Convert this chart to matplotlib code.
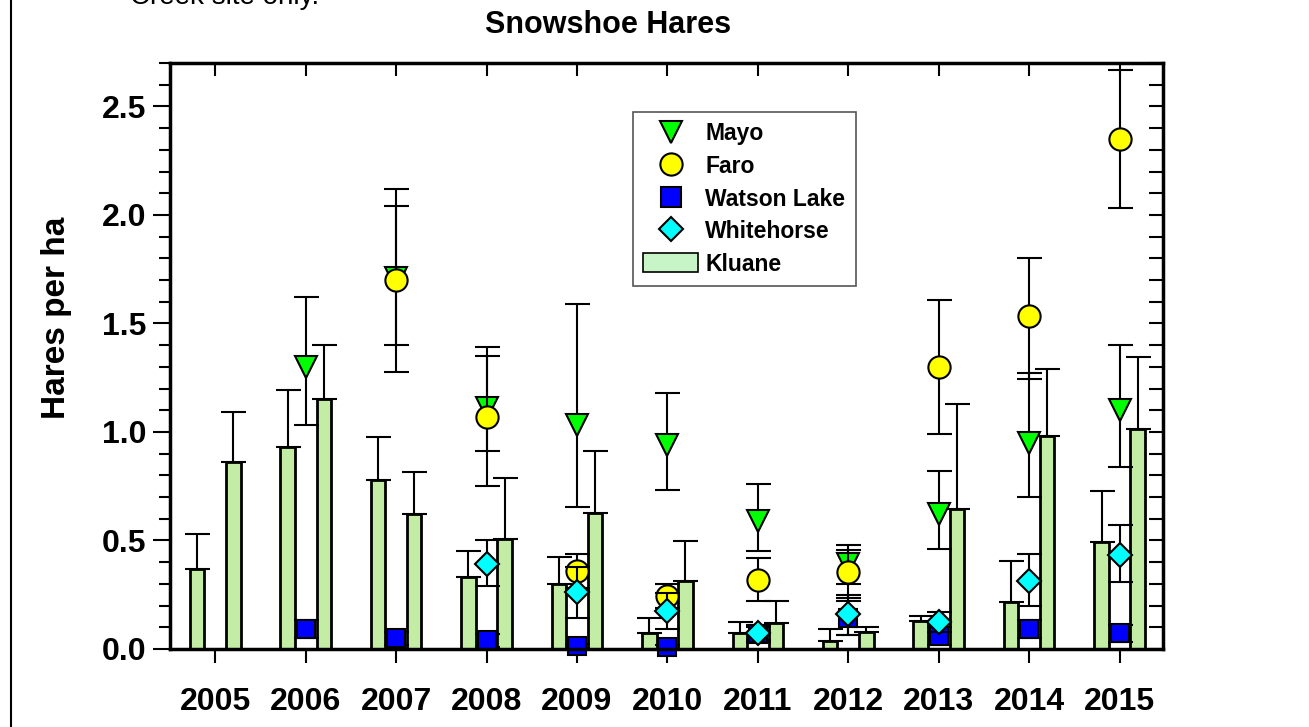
import numpy as np
import matplotlib
matplotlib.use("Agg")
import matplotlib.pyplot as plt
from matplotlib.lines import Line2D
from matplotlib.patches import Patch
from matplotlib.ticker import MultipleLocator, FormatStrFormatter

plt.rcParams['font.family'] = ['Liberation Sans', 'DejaVu Sans']
plt.rcParams['font.weight'] = 'bold'

# Kluane (bars, spring / autumn) with upper error
years = np.arange(2005, 2016)
kluane_spring = [0.37, 0.93, 0.78, 0.33, 0.30, 0.074, 0.072, 0.037, 0.128, 0.215, 0.493]
kluane_spring_hi = [0.53, 1.195, 0.976, 0.453, 0.424, 0.143, 0.123, 0.09, 0.152, 0.407, 0.73]
kluane_autumn = [0.86, 1.153, 0.623, 0.507, 0.626, 0.315, 0.12, 0.077, 0.647, 0.982, 1.015]
kluane_autumn_hi = [1.09, 1.40, 0.816, 0.79, 0.913, 0.497, 0.221, 0.103, 1.13, 1.29, 1.347]

mayo_years = np.arange(2006, 2016)
mayo = [1.30, 1.71, 1.11, 1.03, 0.94, 0.59, 0.39, 0.62, 0.95, 1.10]
mayo_lo = [1.03, 1.275, 0.91, 0.652, 0.733, 0.45, 0.30, 0.461, 0.70, 0.84]
mayo_hi = [1.62, 2.12, 1.39, 1.59, 1.18, 0.76, 0.48, 0.82, 1.27, 1.40]

faro_years = np.arange(2007, 2016)
faro = [1.70, 1.07, 0.36, 0.245, 0.32, 0.355, 1.30, 1.533, 2.35]
faro_lo = [1.40, 0.75, 0.28, 0.19, 0.223, 0.235, 0.99, 1.245, 2.03]
faro_hi = [2.04, 1.35, 0.44, 0.30, 0.42, 0.457, 1.61, 1.80, 2.67]

watson_years = np.arange(2006, 2016)
watson = [0.09, 0.05, 0.04, 0.015, 0.01, 0.07, 0.145, 0.06, 0.093, 0.072]
watson_lo = [0.05, 0.02, 0.01, 0.005, 0.0, 0.04, 0.065, 0.02, 0.05, 0.03]
watson_hi = [0.134, 0.08, 0.07, 0.025, 0.02, 0.10, 0.22, 0.10, 0.135, 0.11]

white_years = np.arange(2008, 2016)
white = [0.393, 0.263, 0.174, 0.072, 0.161, 0.125, 0.312, 0.435]
white_lo = [0.29, 0.143, 0.092, 0.03, 0.065, 0.08, 0.20, 0.31]
white_hi = [0.50, 0.38, 0.26, 0.11, 0.25, 0.17, 0.44, 0.572]

fig = plt.figure(figsize=(13.09, 7.27), dpi=100)
ax = fig.add_axes([170/1309, 1-649/727, (1163-170)/1309, (649-63)/727])

bar_color = '#c3eca5'
err_kw = dict(ecolor='black', elinewidth=1.5, capsize=9, capthick=1.5)
sp = np.array(kluane_spring)
au = np.array(kluane_autumn)
ax.bar(years - 0.2, sp, width=0.16, color=bar_color, edgecolor='black', linewidth=2,
       yerr=[np.zeros_like(sp), np.array(kluane_spring_hi) - sp], error_kw=err_kw, zorder=2)
ax.bar(years + 0.2, au, width=0.16, color=bar_color, edgecolor='black', linewidth=2,
       yerr=[np.zeros_like(au), np.array(kluane_autumn_hi) - au], error_kw=err_kw, zorder=2)


def points(x, y, lo, hi, marker, color, ms, z):
    y = np.array(y)
    ax.errorbar(x, y, yerr=[y - np.array(lo), np.array(hi) - y], fmt='none',
                zorder=z, clip_on=False, **err_kw)
    ax.plot(x, y, linestyle='none', marker=marker, markersize=ms, markerfacecolor=color,
            markeredgecolor='black', markeredgewidth=1.5, zorder=z + 0.5, clip_on=False)


points(mayo_years, mayo, mayo_lo, mayo_hi, 'v', '#00ff00', 16, 3)
points(faro_years, faro, faro_lo, faro_hi, 'o', '#ffff00', 16, 4)
points(watson_years, watson, watson_lo, watson_hi, 's', '#0000ff', 13.5, 5)
points(white_years, white, white_lo, white_hi, 'D', '#00ffff', 12.5, 6)

ax.set_xlim(2004.5, 2015.48)
ax.set_ylim(0, 2.7)
ax.set_xticks(years)
ax.set_xticklabels([str(y) for y in years])
ax.yaxis.set_major_locator(MultipleLocator(0.5))
ax.yaxis.set_minor_locator(MultipleLocator(0.1))
ax.yaxis.set_major_formatter(FormatStrFormatter('%.1f'))
ax.tick_params(axis='x', direction='out', length=10, width=1.5, labelsize=23, pad=17)
ax.tick_params(axis='y', which='major', direction='out', length=12, width=1.5, labelsize=23, pad=5)
ax.tick_params(axis='y', which='minor', direction='out', length=8, width=1.5)
for s in ax.spines.values():
    s.set_linewidth(2.5)
    s.set_zorder(10)

top = ax.secondary_xaxis('top')
top.set_xticks(years)
top.tick_params(direction='in', length=9, width=1.5, labeltop=False)
right = ax.secondary_yaxis('right')
right.yaxis.set_major_locator(MultipleLocator(0.5))
right.yaxis.set_minor_locator(MultipleLocator(0.1))
right.tick_params(which='both', direction='in', length=10, width=1.5, labelright=False)

ax.set_ylabel('Hares per ha', fontsize=24, fontweight='bold')
ax.yaxis.set_label_coords(-0.099, 0.565)
fig.text(608/1309, 1-25/727, 'Snowshoe Hares', ha='center', va='center', fontsize=22, fontweight='bold')
fig.text(130/1309, 1-4/727, 'Creek site only.', ha='left', va='baseline', fontsize=20, fontweight='normal')
fig.add_artist(Line2D([11/1309, 11/1309], [0, 1], transform=fig.transFigure, color='black', lw=1.5))

handles = [
    Line2D([], [], linestyle='none', marker='v', markersize=16, markerfacecolor='#00ff00', markeredgecolor='black', markeredgewidth=1.5),
    Line2D([], [], linestyle='none', marker='o', markersize=16, markerfacecolor='#ffff00', markeredgecolor='black', markeredgewidth=1.5),
    Line2D([], [], linestyle='none', marker='s', markersize=14, markerfacecolor='#0000ff', markeredgecolor='black', markeredgewidth=1.5),
    Line2D([], [], linestyle='none', marker='D', markersize=12, markerfacecolor='#00ffff', markeredgecolor='black', markeredgewidth=1.5),
    Patch(facecolor='#c8f5c8', edgecolor='black', linewidth=1.2),
]
labels = ['Mayo', 'Faro', 'Watson Lake', 'Whitehorse', 'Kluane']
leg = ax.legend(handles, labels, loc='upper left', bbox_to_anchor=(633/1309, 1-112/727),
                bbox_transform=fig.transFigure, fancybox=False, framealpha=1,
                edgecolor='#555555', prop=dict(size=16.5, weight='bold'),
                handlelength=2.4, handleheight=0.9, labelspacing=0.42, borderpad=0.45,
                handletextpad=0.3, borderaxespad=0)
leg.get_frame().set_linewidth(1.2)
leg.set_zorder(20)

fig.savefig('out.png', dpi=100)
